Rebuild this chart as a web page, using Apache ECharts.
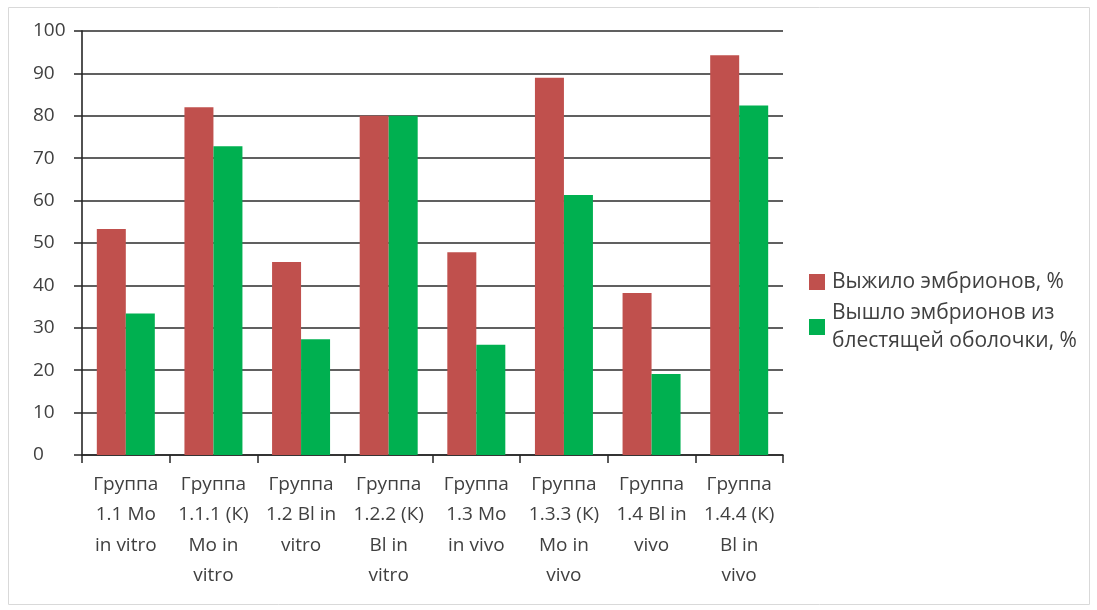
<!DOCTYPE html>
<html>
<head>
<meta charset="utf-8">
<script src="https://cdn.jsdelivr.net/npm/echarts@6/dist/echarts.min.js"></script>
<style>
  html, body { margin: 0; padding: 0; background: #fff; }
  #chart { width: 1097px; height: 610px; }
</style>
</head>
<body>
<div id="chart"></div>
<script>
// группы
var categories = [
  'Группа\n1.1 Mo\nin vitro',
  'Группа\n1.1.1 (К)\nMo in\nvitro',
  'Группа\n1.2 Bl in\nvitro',
  'Группа\n1.2.2 (К)\nBl in\nvitro',
  'Группа\n1.3 Mo\nin vivo',
  'Группа\n1.3.3 (К)\nMo in\nvivo',
  'Группа\n1.4 Bl in\nvivo',
  'Группа\n1.4.4 (К)\nBl in\nvivo'
];
var survived = [53.3, 82, 45.5, 80, 47.8, 89, 38.2, 94.3];
var hatched = [33.4, 72.8, 27.3, 80, 26, 61.3, 19.1, 82.4];
var seriesNames = ['Выжило эмбрионов, %', 'Вышло эмбрионов из\nблестящей оболочки, %'];
var yTicks = [0, 10, 20, 30, 40, 50, 60, 70, 80, 90, 100];

var chart = echarts.init(document.getElementById('chart'));
var font = 'Open Sans, Noto Sans, sans-serif';

chart.setOption({
  animation: false,
  textStyle: { fontFamily: font },
  graphic: [{
    type: 'rect',
    shape: { x: 8.5, y: 7.5, width: 1081, height: 597 },
    style: { fill: 'none', stroke: '#d9d9d9', lineWidth: 1 },
    silent: true
  }],
  grid: { left: 82, right: 314, top: 31, bottom: 155 },
  legend: {
    orient: 'vertical',
    left: 809,
    top: 268,
    padding: 0,
    itemWidth: 16,
    itemHeight: 16,
    itemGap: 3,
    icon: 'rect',
    textStyle: { fontSize: 21, color: '#404040', lineHeight: 28, fontFamily: font, padding: [0, 0, 0, 2] },
    data: seriesNames
  },
  xAxis: {
    type: 'category',
    data: categories,
    axisLine: { lineStyle: { color: '#262626', width: 1.6 } },
    axisTick: { show: true, length: 8, lineStyle: { color: '#262626', width: 1.5 } },
    axisLabel: {
      interval: 0,
      margin: 14,
      fontSize: 19,
      lineHeight: 30.5,
      color: '#404040',
      fontFamily: font
    }
  },
  yAxis: {
    type: 'value',
    min: yTicks[0],
    max: yTicks[yTicks.length - 1],
    interval: 10,
    axisLine: { show: true, lineStyle: { color: '#262626', width: 1.6 } },
    axisTick: { show: true, length: 8, lineStyle: { color: '#262626', width: 1.5 } },
    splitLine: { lineStyle: { color: '#2b2b2b', width: 1.6 } },
    axisLabel: { fontSize: 19, color: '#404040', margin: 49, align: 'left', fontFamily: font }
  },
  series: [
    {
      name: seriesNames[0],
      type: 'bar',
      data: survived,
      barWidth: 29,
      barGap: '0%',
      itemStyle: { color: '#c0504d' }
    },
    {
      name: seriesNames[1],
      type: 'bar',
      data: hatched,
      barWidth: 29,
      barGap: '0%',
      itemStyle: { color: '#00b050' }
    }
  ]
});
</script>
</body>
</html>
